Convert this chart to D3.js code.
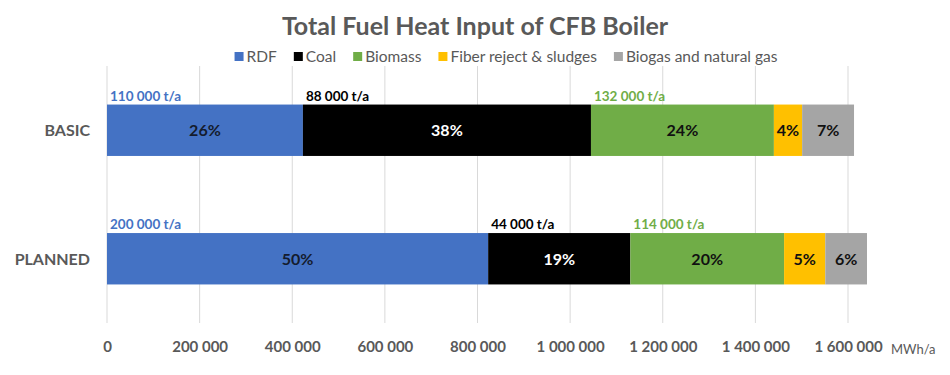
<!DOCTYPE html>
<html>
<head>
<meta charset="utf-8">
<script src="https://cdn.jsdelivr.net/npm/d3@7"></script>
<style>
  body { margin: 0; background: #fff; }
  svg text { font-family: Lato, "Open Sans", sans-serif; }
</style>
</head>
<body>
<div id="chart"></div>
<script>
// data (MWh/a)
const categories = ["BASIC", "PLANNED"];
const fuels = ["RDF", "Coal", "Biomass", "Fiber reject & sludges", "Biogas and natural gas"];
const fuelColors = ["#4472C4", "#000000", "#70AD47", "#FFC000", "#A5A5A5"];
const basicValues = [423000, 622000, 395000, 61000, 112000];
const plannedValues = [823000, 307000, 332000, 89000, 90000];
const basicPct = ["26%", "38%", "24%", "4%", "7%"];
const plannedPct = ["50%", "19%", "20%", "5%", "6%"];
// tonnage labels above RDF, Coal, Biomass
const basicTons = ["110 000 t/a", "88 000 t/a", "132 000 t/a"];
const plannedTons = ["200 000 t/a", "44 000 t/a", "114 000 t/a"];
const tonColors = ["#4472C4", "#000000", "#70AD47"];
const xTicks = [0, 200000, 400000, 600000, 800000, 1000000, 1200000, 1400000, 1600000];

const W = 950, H = 375;
const margin = { top: 66, right: 102, bottom: 52, left: 107 };
const innerW = W - margin.left - margin.right;
const innerH = H - margin.top - margin.bottom;

const svg = d3.select("#chart").append("svg")
    .attr("width", W)
    .attr("height", H);

// title
svg.append("text")
    .attr("x", W / 2)
    .attr("y", 35)
    .attr("text-anchor", "middle")
    .style("font-size", "25px")
    .style("font-weight", "bold")
    .style("fill", "#595959")
    .text("Total Fuel Heat Input of CFB Boiler");

// legend
const legend = svg.append("g");
let lx = 0;
fuels.forEach((f, i) => {
    const item = legend.append("g").attr("transform", `translate(${lx},0)`);
    item.append("rect")
        .attr("x", 0).attr("y", -5)
        .attr("width", 9).attr("height", 9)
        .style("fill", fuelColors[i]);
    const t = item.append("text")
        .attr("x", 12).attr("y", 5)
        .style("font-size", "15.5px")
        .style("fill", "#595959")
        .text(f);
    lx += 12 + t.node().getComputedTextLength() + 17;
});
legend.attr("transform", `translate(${506 - (lx - 17) / 2},57)`);

// the 1.6M gridline sits at x = 848
const x = d3.scaleLinear()
    .domain([0, 1650000])
    .range([0, (848 - 107) * 1650000 / 1600000]);

const y = d3.scaleBand()
    .domain(categories)
    .range([0, innerH])
    .paddingInner(0.6)
    .paddingOuter(0.3);

const g = svg.append("g")
    .attr("transform", `translate(${margin.left},${margin.top})`);

// gridlines
g.append("g")
    .selectAll("line")
    .data(xTicks)
    .enter()
    .append("line")
    .attr("x1", d => x(d)).attr("x2", d => x(d))
    .attr("y1", 0).attr("y2", innerH)
    .style("stroke", "#d9d9d9")
    .style("stroke-width", 1);

// x axis labels
const xAxis = g.append("g")
    .attr("transform", `translate(0,${innerH})`)
    .call(d3.axisBottom(x).tickValues(xTicks).tickSize(0).tickPadding(18)
        .tickFormat(d => d3.format(",")(d).replace(/,/g, " ")));
xAxis.select(".domain").remove();
xAxis.selectAll("text")
    .style("font-size", "15px")
    .style("font-weight", "bold")
    .style("fill", "#595959")
    .attr("font-family", null);

g.append("text")
    .attr("x", x(1600000) + 43)
    .attr("y", innerH + 31)
    .style("font-size", "13px")
    .style("fill", "#595959")
    .text("MWh/a");

// category labels
g.append("g")
    .selectAll("text")
    .data(categories)
    .enter()
    .append("text")
    .attr("x", -17)
    .attr("y", d => y(d) + y.bandwidth() / 2 + 6)
    .attr("text-anchor", "end")
    .style("font-size", "16px")
    .style("font-weight", "bold")
    .style("fill", "#595959")
    .text(d => d);

const rows = [
    { cat: "BASIC", values: basicValues, pct: basicPct, tons: basicTons },
    { cat: "PLANNED", values: plannedValues, pct: plannedPct, tons: plannedTons }
];

rows.forEach(row => {
    const starts = [];
    let acc = 0;
    row.values.forEach(v => { starts.push(acc); acc += v; });
    const segs = row.values.map((v, i) => ({ i, x0: starts[i], x1: starts[i] + v }));

    const rg = g.append("g");
    rg.selectAll("rect")
        .data(segs)
        .enter()
        .append("rect")
        .attr("x", d => x(d.x0))
        .attr("y", y(row.cat))
        .attr("width", d => x(d.x1) - x(d.x0))
        .attr("height", y.bandwidth())
        .style("fill", d => fuelColors[d.i]);

    rg.selectAll(".pct")
        .data(segs)
        .enter()
        .append("text")
        .attr("class", "pct")
        .attr("x", d => (x(d.x0) + x(d.x1)) / 2)
        .attr("y", y(row.cat) + y.bandwidth() / 2 + 6)
        .attr("text-anchor", "middle")
        .style("font-size", "16px")
        .style("font-weight", "bold")
        .style("fill", d => d.i === 1 ? "#ffffff" : (d.i === 0 ? "#141c2e" : "#111"))
        .text(d => row.pct[d.i]);

    rg.selectAll(".tons")
        .data(segs.slice(0, 3))
        .enter()
        .append("text")
        .attr("class", "tons")
        .attr("x", d => x(d.x0) + 3)
        .attr("y", y(row.cat) - 4)
        .style("font-size", "13.5px")
        .style("font-weight", "bold")
        .style("fill", d => tonColors[d.i])
        .text(d => row.tons[d.i]);
});
</script>
</body>
</html>
